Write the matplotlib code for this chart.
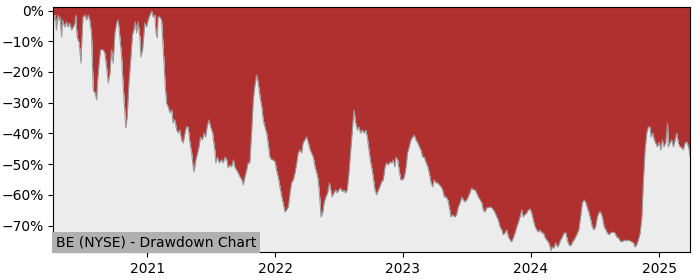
import matplotlib
matplotlib.use("Agg")
import matplotlib.pyplot as plt
import matplotlib.dates as mdates
import matplotlib.ticker as mtick
import numpy as np
import pandas as pd

title_text = "BE (NYSE) - Drawdown Chart"
base_date = "2021-01-01"

# day offsets from base_date
day_offsets = [
    -268, -264, -262, -259, -255, -252, -249, -244, -242, -235, -230, -226, -221, -216, -211, -206, -204, -200,
    -194, -189, -186, -183, -177, -173, -168, -164, -159, -154, -149, -144, -142, -137, -133, -126, -121, -116,
    -111, -106, -102, -97, -92, -87, -83, -78, -73, -69, -64, -61, -57, -52, -47, -42,
    -38, -34, -30, -26, -21, -18, -13, -9, -7, -2, 3, 8, 13, 17, 22, 25, 29, 31, 36, 41, 46, 51, 55, 60, 65, 70,
    74, 79, 84, 89, 93, 98, 103, 108, 112, 117, 122, 127, 131, 134, 139, 144, 148, 152, 158, 162, 167, 171, 176,
    181, 187,
    188, 193, 196, 200, 206, 212, 217, 222, 227, 231, 236, 241, 246, 250, 255, 260, 265, 270, 274, 279, 284, 288,
    293, 298, 303, 307, 312, 317, 322, 327, 331, 336, 341, 345, 350, 355, 360, 365, 369, 374, 379, 384, 388, 393,
    398, 403, 407,
    412, 417, 422, 427, 431, 436, 441, 445, 450, 455, 460, 465, 469, 474, 479, 484, 488, 493, 496, 501, 505, 510,
    515, 520, 524, 528, 533, 538, 542, 547, 552, 557, 562, 566, 571, 576, 581, 585, 590, 595, 600, 604, 609, 614,
    619, 624, 628, 633, 638,
    642, 645, 650, 655, 660, 664, 669, 674, 679, 683, 688, 693, 698, 702, 707, 710, 715, 719, 724, 729, 734, 739,
    743, 748, 753, 758, 762, 767, 772, 777, 781, 786, 791, 796, 801, 805, 810, 815, 819, 824, 829, 834, 839, 843,
    848, 853, 858, 862, 867, 872,
    878, 883, 888, 893, 898, 902, 907, 912, 916, 921, 926, 931, 936, 940, 945, 950, 955, 959, 964, 969, 974, 978,
    983, 988, 993, 998, 1002, 1007, 1012, 1016, 1021, 1026, 1031, 1036, 1040, 1045, 1050, 1055, 1059, 1064, 1069,
    1073, 1078, 1083, 1088, 1093, 1097,
    1102, 1107, 1112, 1116, 1121, 1126, 1131, 1135, 1140, 1145, 1150, 1153, 1156, 1161, 1166, 1171, 1175, 1180,
    1185, 1190, 1195, 1199, 1204, 1209, 1213, 1218, 1223, 1228, 1232, 1237, 1242, 1247, 1252, 1256, 1261, 1266,
    1270, 1275, 1280, 1285, 1290, 1294, 1299, 1304, 1309, 1313, 1318, 1323, 1329,
    1335, 1340, 1345, 1350, 1354, 1359, 1364, 1369, 1373, 1378, 1383, 1388, 1392, 1397, 1402, 1407, 1412, 1416,
    1421, 1426, 1430, 1435, 1438, 1443, 1447, 1451, 1456, 1461, 1466, 1470, 1475, 1480, 1485, 1487, 1492, 1497,
    1502, 1507, 1511, 1516, 1521, 1526, 1530, 1535, 1540, 1545, 1550,
]

# drawdown in percent
drawdown_pct = [
    -0.8, -3.1, -1.5, -6.3, -1.5, -3.1, -2.1, -8.6, -3.1, -5.4, -3.7, -5.4, -4.1, -6.3, -5.4, -4.1, -1.5, -8.6,
    -10.6, -17.1, -8.6, -2.1, -1.5, -3.1, -1.5, -3.1, -7.3, -25.9, -26.8, -29.1, -23.6, -17.1, -12.8, -12.8, -13.8, -18.4,
    -23.6, -20.3, -12.8, -17.1, -7.3, -4.1, -3.1, -8.6, -15.1, -23.6, -32.4, -38.2, -34.6, -23.6, -16.1, -8.0,
    -6.3, -3.7, -7.3, -3.7, -8.6, -15.1, -12.8, -7.3, -4.1, -5.4, -3.1, -1.5, -0.2, -2.1, -1.5, -7.3, -8.9, -2.1, -2.1, -3.1, -12.8, -23.6, -30.1, -31.4, -33.3, -32.4,
    -36.6, -35.6, -38.9, -39.9, -38.9, -42.1, -43.1, -39.9, -37.9, -37.9, -43.1, -46.4, -50.9, -52.5, -48.6, -46.4, -44.4, -41.2, -42.1, -39.9, -41.2, -37.9, -35.6,
    -37.9, -39.9,
    -41.2, -45.4, -49.6, -47.7, -49.6, -48.6, -49.6, -47.7, -48.6, -51.2, -50.3, -50.9, -48.6, -50.9, -51.9, -52.9, -54.2, -55.1, -56.8, -54.2, -51.9, -49.6,
    -49.6, -39.9, -29.1, -24.9, -21.0, -23.6, -28.1, -31.4, -35.6, -37.9, -39.9, -43.1, -47.7, -48.6, -48.6, -49.3, -51.9, -54.2, -57.4, -60.7, -62.6, -65.6,
    -64.9, -63.9, -60.0,
    -56.1, -55.1, -52.9, -49.6, -46.4, -45.4, -46.4, -43.1, -42.1, -41.2, -43.1, -45.4, -46.4, -47.7, -50.9, -52.9, -55.1, -61.6, -67.2, -65.9, -62.6, -60.7,
    -59.4, -56.1, -58.4, -60.7, -59.4, -58.4, -59.4, -58.4, -57.8, -59.0, -58.4, -59.4, -58.4, -52.9, -45.4, -39.9, -32.4, -36.6, -38.9, -37.9, -39.9, -38.9,
    -39.9, -38.9, -41.2, -45.4, -49.6,
    -51.9, -54.2, -58.4, -60.0, -58.4, -57.4, -55.8, -55.1, -50.9, -49.6, -50.3, -49.3, -49.6, -48.6, -50.9, -47.7, -48.6, -51.9, -55.1, -55.1, -54.2, -50.9,
    -46.4, -44.4, -42.1, -41.2, -40.5, -42.1, -43.1, -44.4, -45.4, -47.7, -47.7, -49.6, -50.9, -52.9, -56.1, -57.4, -55.1, -56.1, -56.1, -56.8, -57.4, -58.4,
    -60.7, -60.7, -61.6, -63.9, -67.2, -66.5,
    -67.2, -66.5, -63.9, -62.6, -60.7, -61.6, -62.3, -61.6, -60.7, -59.4, -57.8, -58.4, -58.4, -59.4, -60.7, -61.6, -62.6, -64.9, -65.6, -64.2, -64.2, -63.9,
    -64.2, -64.9, -65.9, -67.2, -68.2, -70.4, -71.4, -73.0, -72.4, -71.4, -73.7, -74.7, -75.3, -74.0, -72.4, -70.4, -69.1, -67.2, -64.9,
    -67.2, -66.5, -65.9, -64.9, -64.6, -65.9,
    -68.2, -70.4, -71.4, -72.1, -71.4, -72.4, -72.4, -73.7, -74.7, -75.3, -77.0, -78.2, -77.0, -77.3, -75.6, -77.0, -76.3, -74.7,
    -73.7, -72.4, -72.4, -74.7, -76.3, -76.6, -75.6, -74.7, -73.7, -72.4, -71.4, -67.2, -62.6, -61.6, -62.6, -64.2, -65.9, -68.2,
    -70.4, -71.4, -70.4, -67.2, -65.6, -65.6, -67.2, -70.4, -71.4, -72.4, -73.0, -72.4, -72.1,
    -72.4, -73.7, -74.0, -75.0, -75.3, -75.0, -74.7, -75.0, -74.7, -75.0, -75.3, -75.6, -77.0, -76.3, -74.7, -72.4, -67.2, -56.1,
    -45.4, -39.9, -37.9, -37.9, -41.2, -39.9, -42.1, -43.1, -44.4, -42.8, -45.4, -42.1, -44.4, -43.1, -36.6, -44.4, -43.1, -42.1,
    -44.4, -42.1, -39.9, -43.1, -44.4, -44.7, -45.4, -43.1, -42.8, -44.4, -47.7,
]

dates = pd.Timestamp(base_date) + pd.to_timedelta(day_offsets, unit="D")
dd = np.array(drawdown_pct)

RED = "#B03030"
LIGHT = "#ECECEC"

fig = plt.figure(figsize=(7, 2.8), dpi=100)
ax = fig.add_axes([0.0761, 0.0989, 0.9100, 0.8750])

y_lo, y_hi = -78.7, 1.04
ax.fill_between(dates, dd, y_hi, color=RED, linewidth=0)
ax.fill_between(dates, dd, y_lo, color=LIGHT, linewidth=0)
ax.plot(dates, dd, color="#999999", linewidth=0.8)

ax.set_xlim(dates[0], dates[-1])
ax.set_ylim(y_lo, y_hi)
ax.set_yticks([0, -10, -20, -30, -40, -50, -60, -70])
ax.yaxis.set_major_formatter(mtick.PercentFormatter(100, decimals=0))
ax.xaxis.set_major_locator(mdates.YearLocator())
ax.xaxis.set_major_formatter(mdates.DateFormatter("%Y"))

ax.text(0.004, 0.012, title_text, transform=ax.transAxes, fontsize=10,
        ha="left", va="bottom",
        bbox=dict(facecolor="#B0B0B0", edgecolor="none", pad=2.5))

fig.savefig("out.png", dpi=100)
